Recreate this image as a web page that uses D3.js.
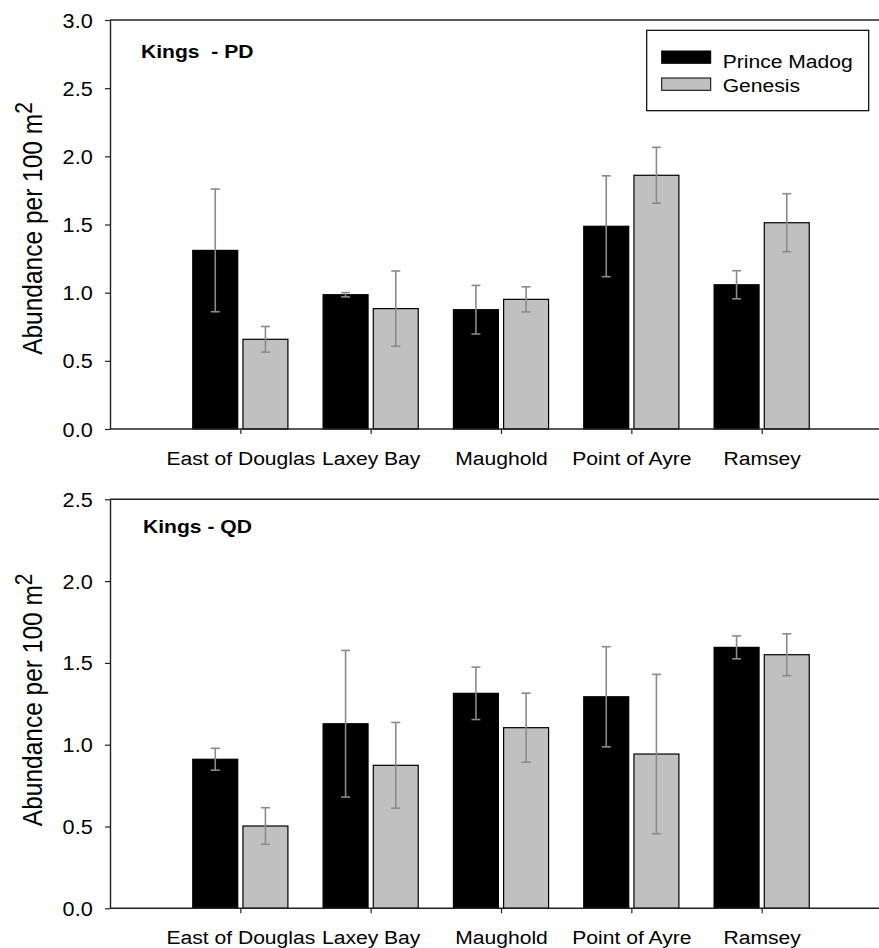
<!DOCTYPE html>
<html>
<head>
<meta charset="utf-8">
<script src="https://cdn.jsdelivr.net/npm/d3@7"></script>
<style>
  html, body { margin: 0; padding: 0; background: #fff; }
  svg { display: block; }
  text { font-family: Arial, "Liberation Sans", Helvetica, sans-serif; fill: #000; }
</style>
</head>
<body>
<svg id="chart" width="879" height="948"></svg>
<script>
// ---- data ----
const categories = ["East of Douglas", "Laxey Bay", "Maughold", "Point of Ayre", "Ramsey"];
const seriesNames = ["Prince Madog", "Genesis"];
const seriesColors = ["#000000", "#c0c0c0"];

const pdMadog      = [1.31, 0.985, 0.875, 1.487, 1.058];
const pdMadogErr   = [0.45, 0.016, 0.178, 0.37, 0.103];
const pdGenesis    = [0.658, 0.883, 0.951, 1.861, 1.513];
const pdGenesisErr = [0.094, 0.276, 0.092, 0.205, 0.213];

const qdMadog      = [0.911, 1.128, 1.314, 1.293, 1.595];
const qdMadogErr   = [0.067, 0.448, 0.16, 0.306, 0.07];
const qdGenesis    = [0.503, 0.874, 1.104, 0.943, 1.55];
const qdGenesisErr = [0.112, 0.262, 0.211, 0.487, 0.128];

const pdTicks = [0, 0.5, 1.0, 1.5, 2.0, 2.5, 3.0];
const qdTicks = [0, 0.5, 1.0, 1.5, 2.0, 2.5];

const panels = [
  { title: "Kings  - PD", yMax: 3.0, ticks: pdTicks, top: 20, bottom: 429,
    values: [pdMadog, pdGenesis], errors: [pdMadogErr, pdGenesisErr],
    titleX: 141, titleY: 58, legend: true, labelShift: 4 },
  { title: "Kings - QD", yMax: 2.5, ticks: qdTicks, top: 499.3, bottom: 908.3,
    values: [qdMadog, qdGenesis], errors: [qdMadogErr, qdGenesisErr],
    titleX: 143, titleY: 533, legend: false, labelShift: -4 }
];

// ---- layout ----
const SX = 1.11;            // horizontal text stretch of the original
const FS = 19;              // base font size
const left = 110;
const x = d3.scaleLinear().domain([0, 6]).range([left, 892]);
const barW = 0.345;         // in category units
const gap = 0.02;

const svg = d3.select("#chart");

panels.forEach(p => {
  const y = d3.scaleLinear().domain([0, p.yMax]).range([p.bottom, p.top]);
  const g = svg.append("g");

  // frame top line
  g.append("line")
    .attr("x1", left).attr("x2", 879 + 20)
    .attr("y1", y(p.yMax)).attr("y2", y(p.yMax))
    .attr("stroke", "#222").attr("stroke-width", 1.4);

  // bars
  p.values.forEach((vals, si) => {
    const off = si === 0 ? -(gap + barW) : gap;
    g.selectAll(null).data(vals).join("rect")
      .attr("x", (d, i) => x(i + 1 + off))
      .attr("width", x(barW) - x(0))
      .attr("y", d => y(d))
      .attr("height", d => y(0) - y(d))
      .attr("fill", seriesColors[si])
      .attr("stroke", "#000").attr("stroke-width", 1.2);
  });

  // error bars
  p.values.forEach((vals, si) => {
    const off = si === 0 ? -(gap + barW / 2) : gap + barW / 2;
    const errs = p.errors[si];
    const eg = g.append("g").attr("stroke", "#8a8a8a").attr("stroke-width", 1.6);
    vals.forEach((v, i) => {
      const cx = x(i + 1 + off);
      const hi = y(v + errs[i]), lo = y(v - errs[i]);
      eg.append("line").attr("x1", cx).attr("x2", cx).attr("y1", hi).attr("y2", lo);
      eg.append("line").attr("x1", cx - 4.5).attr("x2", cx + 4.5).attr("y1", hi).attr("y2", hi);
      eg.append("line").attr("x1", cx - 4.5).attr("x2", cx + 4.5).attr("y1", lo).attr("y2", lo);
    });
  });

  // y axis
  const ya = g.append("g").attr("transform", `translate(${left},0)`)
    .call(d3.axisLeft(y).tickValues(p.ticks).tickFormat(d3.format(".1f")).tickSize(5).tickSizeOuter(0));
  ya.select(".domain").attr("stroke", "#222").attr("stroke-width", 1.4);
  ya.selectAll(".tick line").attr("stroke", "#222").attr("stroke-width", 1.2);
  ya.selectAll(".tick text")
    .attr("font-size", FS + 0.5).attr("font-family", null)
    .attr("x", -17.3 / SX).attr("dy", "0.36em")
    .attr("transform", `scale(${SX},1)`);

  // x axis
  const xa = g.append("g").attr("transform", `translate(0,${y(0)})`)
    .call(d3.axisBottom(x).tickValues([1, 2, 3, 4, 5]).tickFormat(d => categories[d - 1]).tickSize(5).tickSizeOuter(0));
  xa.select(".domain").attr("stroke", "#222").attr("stroke-width", 1.4)
    .attr("d", `M${left},0H${879 + 20}`);
  xa.selectAll(".tick line").attr("stroke", "#222").attr("stroke-width", 1.2);
  xa.selectAll(".tick text")
    .attr("font-size", FS).attr("font-family", null)
    .attr("y", 36).attr("dy", 0)
    .attr("transform", `scale(${SX},1)`);

  // y label
  const cy = (p.top + p.bottom) / 2 + p.labelShift;
  const yl = g.append("text")
    .attr("transform", `translate(41.5,${cy}) scale(${SX},1) rotate(-90)`)
    .attr("text-anchor", "middle")
    .attr("font-size", 24.5);
  yl.append("tspan").text("Abundance per 100 m");
  yl.append("tspan").attr("font-size", 21).attr("dy", -9).text("2");

  // panel title
  g.append("text")
    .attr("transform", `translate(${p.titleX},${p.titleY}) scale(${SX},1)`)
    .attr("font-size", 19).attr("font-weight", "bold")
    .attr("xml:space", "preserve").style("white-space", "pre")
    .text(p.title);

  // legend
  if (p.legend) {
    const lg = g.append("g");
    lg.append("rect").attr("x", 646.7).attr("y", 30.3).attr("width", 222).attr("height", 80.4)
      .attr("fill", "#fff").attr("stroke", "#000").attr("stroke-width", 1.2);
    seriesNames.forEach((name, i) => {
      lg.append("rect").attr("x", 661.7).attr("y", 51 + i * 27).attr("width", 49).attr("height", 12.3)
        .attr("fill", seriesColors[i]).attr("stroke", "#000").attr("stroke-width", 1);
      lg.append("text")
        .attr("transform", `translate(722.7,${67.5 + i * 24}) scale(${SX},1)`)
        .attr("font-size", FS).text(name);
    });
  }
});
</script>
</body>
</html>
